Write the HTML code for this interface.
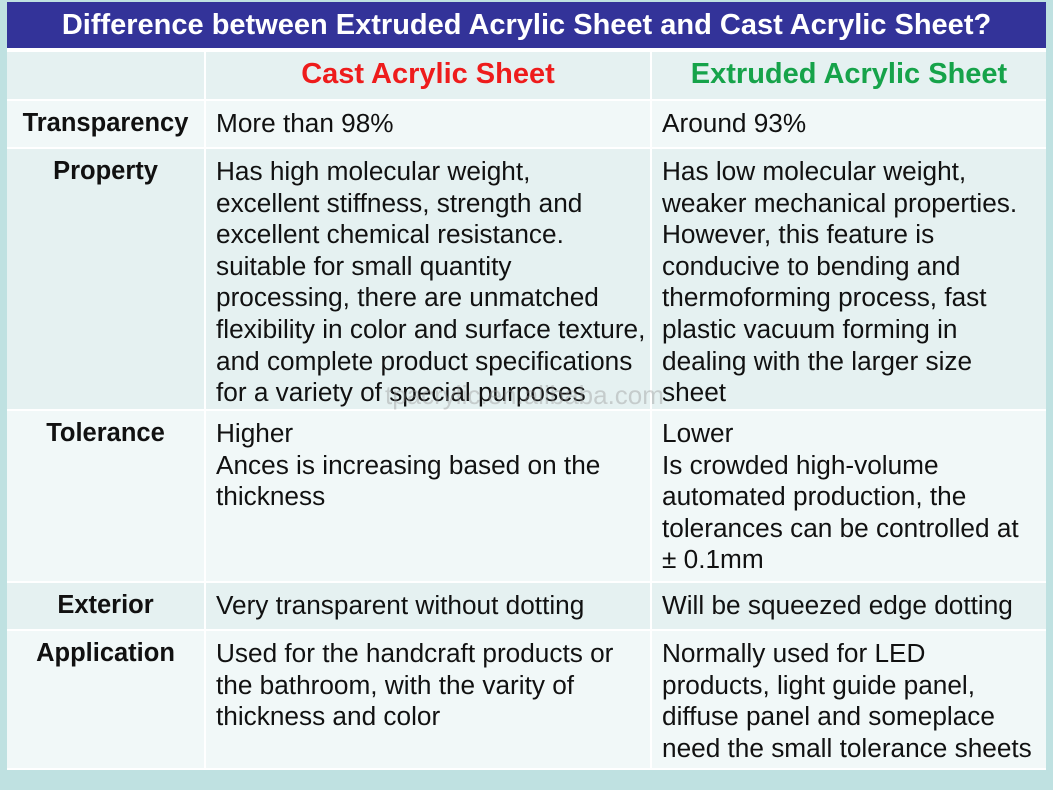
<!DOCTYPE html>
<html><head><style>
body{margin:0;width:1053px;height:790px;background:#bfe1e1;font-family:"Liberation Sans",Arial,sans-serif;position:relative;overflow:hidden}
.t{position:absolute;left:7px;top:2px;width:1039px;height:46px;background:#333399;color:#fff;font-weight:bold;font-size:29px;text-align:center;line-height:46px;white-space:nowrap}
.w{position:absolute;left:7px;top:48px;width:1039px;height:722px;background:#fff}
.c{position:absolute;box-sizing:border-box;font-size:26.2px;line-height:31.6px;color:#111;padding:7px 0 0 10px;white-space:nowrap}
.l{font-weight:bold;text-align:center;padding-left:0;font-size:25.5px}
.d{background:#e5f1f1}.g{background:#f1f8f8}
.wm{position:absolute;left:385px;top:380px;font-size:26px;color:rgba(150,150,150,.4)}
</style></head><body>
<div class="t">Difference between Extruded Acrylic Sheet and Cast Acrylic Sheet?</div>
<div class="w"></div>
<div class="c d" style="left:7px;top:52px;width:197px;height:47px"></div>
<div class="c d" style="left:206px;top:52px;width:444px;height:47px;text-align:center;color:#ee1c1c;font-weight:bold;font-size:29px;padding:7px 0 0 0">Cast Acrylic Sheet</div>
<div class="c d" style="left:652px;top:52px;width:394px;height:47px;text-align:center;color:#16a34a;font-weight:bold;font-size:29px;padding:7px 0 0 0">Extruded Acrylic Sheet</div>
<div class="c g l" style="left:7px;top:101px;width:197px;height:46px">Transparency</div>
<div class="c g" style="left:206px;top:101px;width:444px;height:46px">More than 98%</div>
<div class="c g" style="left:652px;top:101px;width:394px;height:46px">Around 93%</div>
<div class="c d l" style="left:7px;top:149px;width:197px;height:260px">Property</div>
<div class="c d" style="left:206px;top:149px;width:444px;height:260px">Has high molecular weight,<br>excellent stiffness, strength and<br>excellent chemical resistance.<br>suitable for small quantity<br>processing, there are unmatched<br>flexibility in color and surface texture,<br>and complete product specifications<br>for a variety of special purposes</div>
<div class="c d" style="left:652px;top:149px;width:394px;height:260px">Has low molecular weight,<br>weaker mechanical properties.<br>However, this feature is<br>conducive to bending and<br>thermoforming process, fast<br>plastic vacuum forming in<br>dealing with the larger size<br>sheet</div>
<div class="c g l" style="left:7px;top:411px;width:197px;height:170px">Tolerance</div>
<div class="c g" style="left:206px;top:411px;width:444px;height:170px">Higher<br>Ances is increasing based on the<br>thickness</div>
<div class="c g" style="left:652px;top:411px;width:394px;height:170px">Lower<br>Is crowded high-volume<br>automated production, the<br>tolerances can be controlled at<br>± 0.1mm</div>
<div class="c d l" style="left:7px;top:583px;width:197px;height:46px">Exterior</div>
<div class="c d" style="left:206px;top:583px;width:444px;height:46px">Very transparent without dotting</div>
<div class="c d" style="left:652px;top:583px;width:394px;height:46px">Will be squeezed edge dotting</div>
<div class="c g l" style="left:7px;top:631px;width:197px;height:137px">Application</div>
<div class="c g" style="left:206px;top:631px;width:444px;height:137px">Used for the handcraft products or<br>the bathroom, with the varity of<br>thickness and color</div>
<div class="c g" style="left:652px;top:631px;width:394px;height:137px">Normally used for LED<br>products, light guide panel,<br>diffuse panel and someplace<br>need the small tolerance sheets</div>
<div class="wm">tpacrylic.en.alibaba.com</div>
</body></html>
